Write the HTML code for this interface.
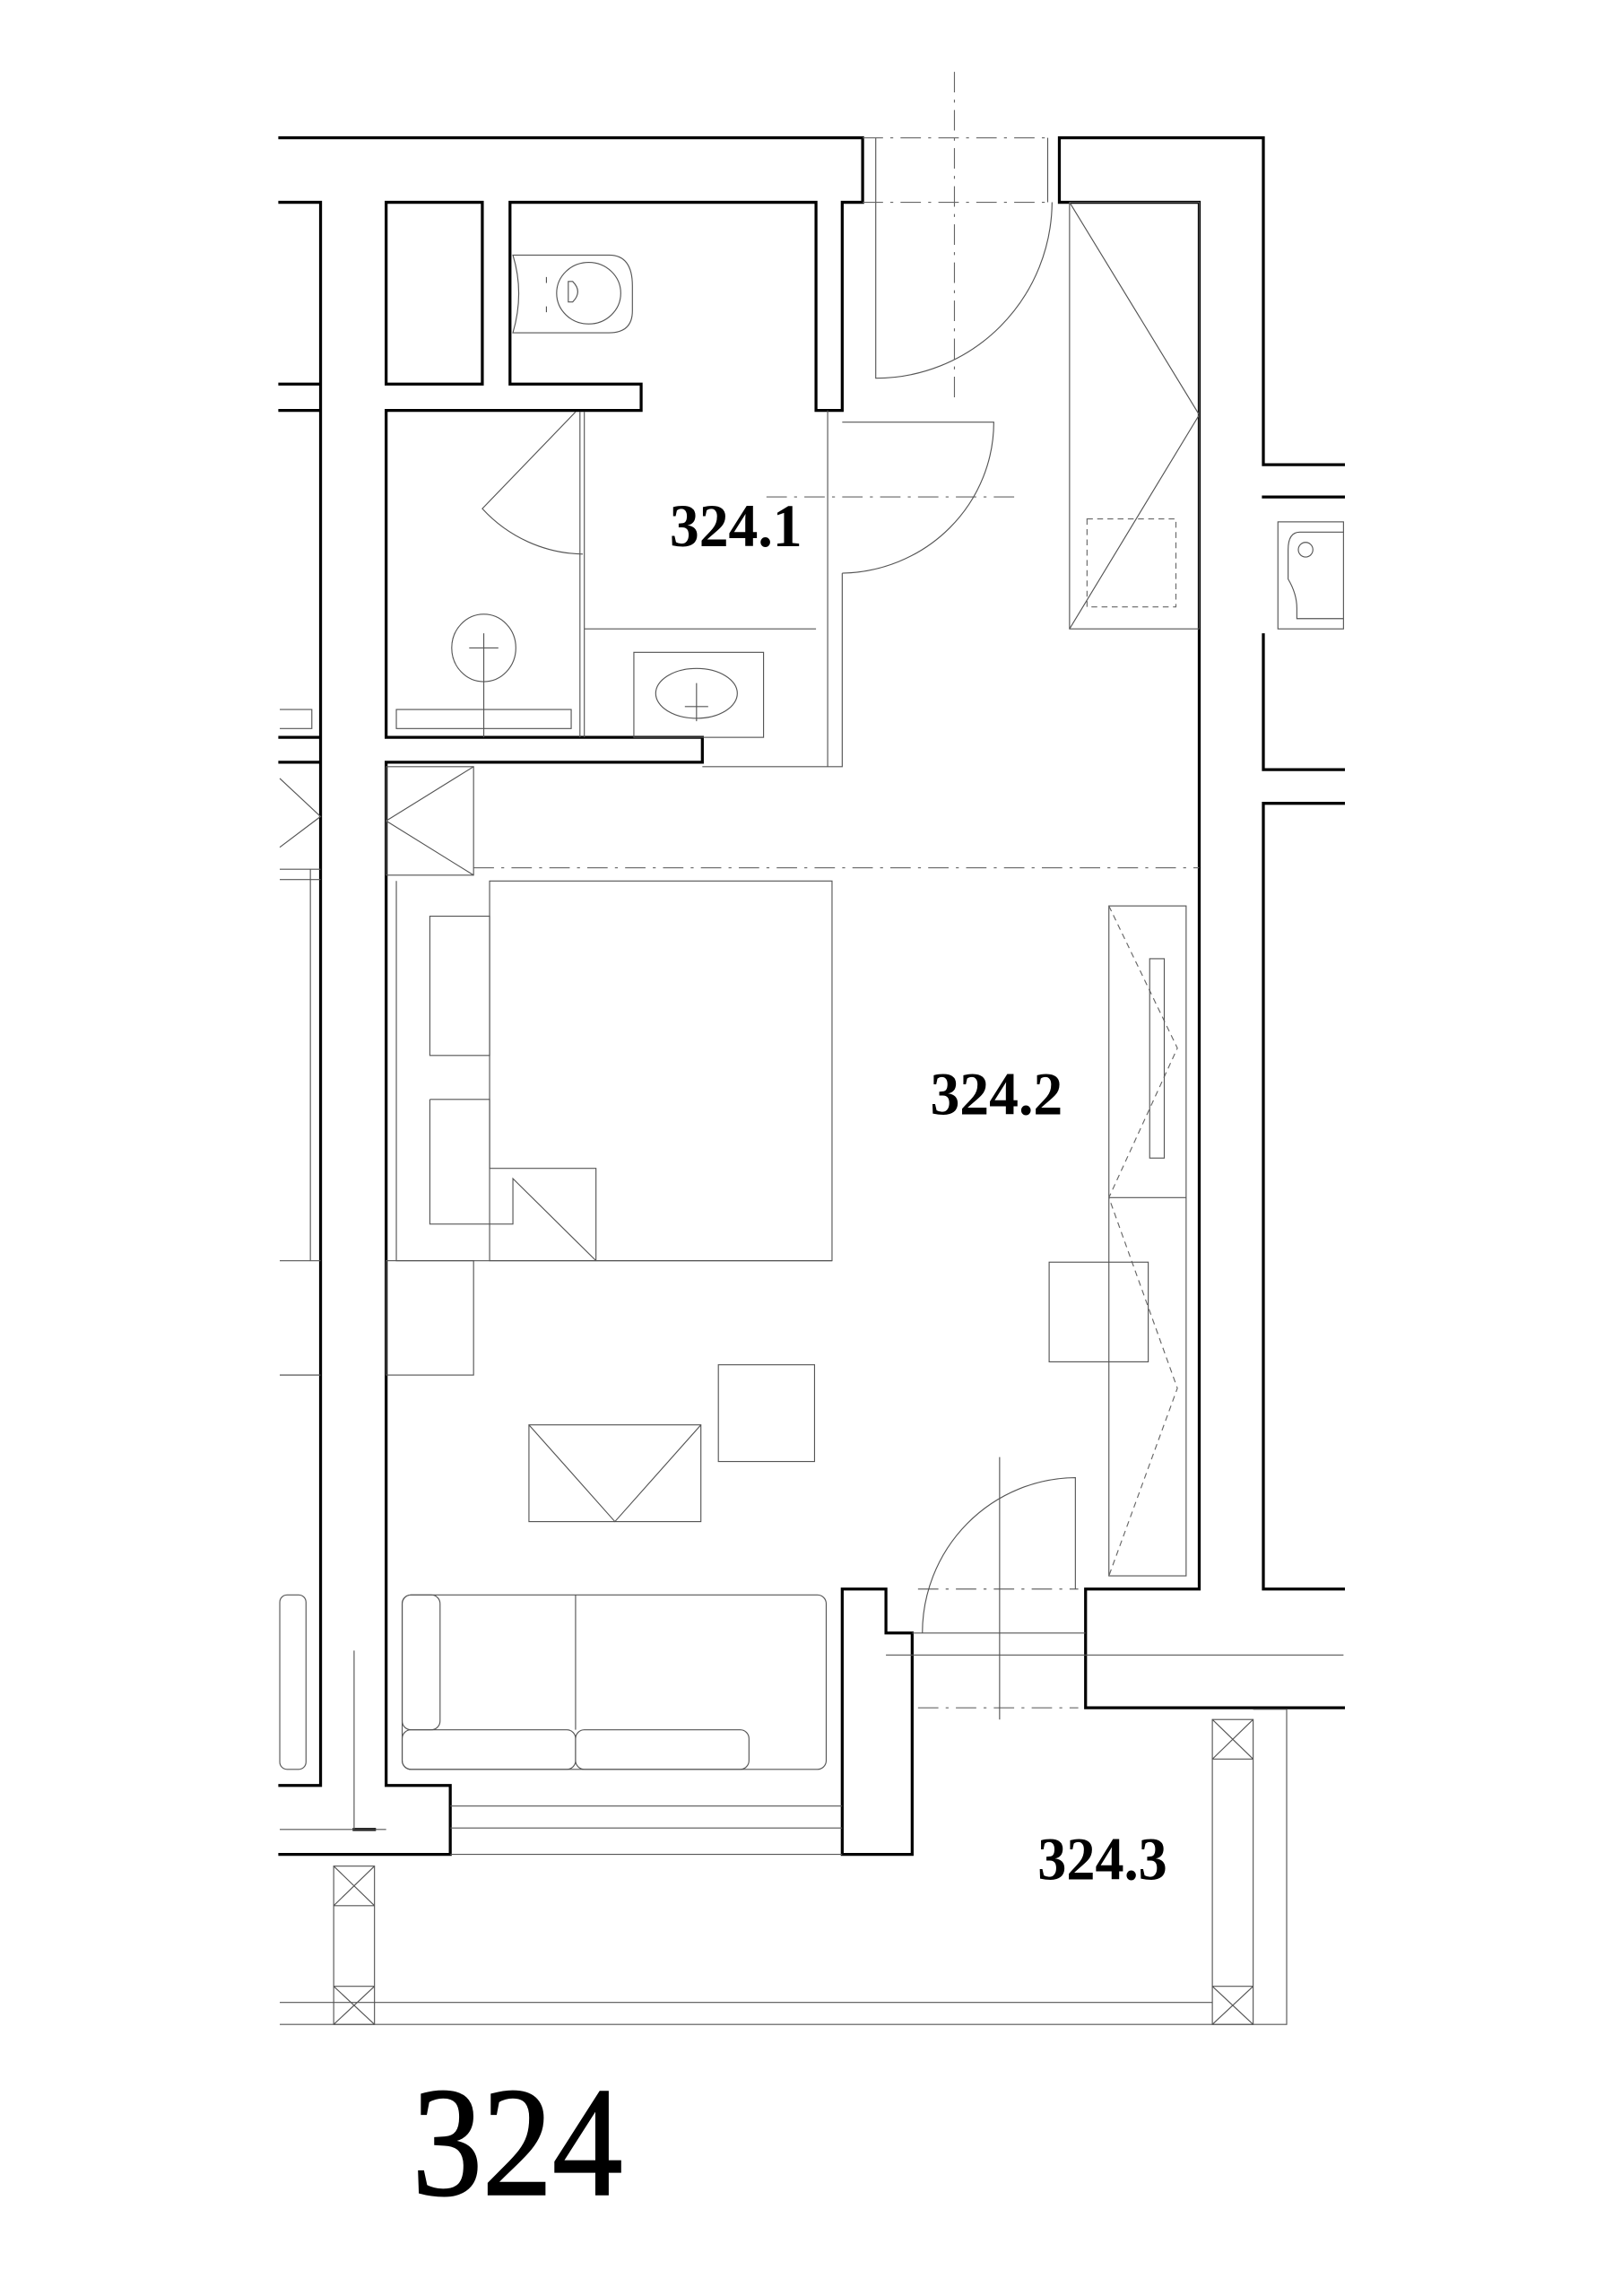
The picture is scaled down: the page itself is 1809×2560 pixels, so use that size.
<!DOCTYPE html>
<html><head><meta charset="utf-8"><style>
html,body{margin:0;padding:0;background:#fff;}
svg{display:block;}
.w{stroke:#000;stroke-width:2;fill:none;stroke-linecap:square;}
.t{stroke:#555;stroke-width:0.7;fill:none;}
.d{stroke:#666;stroke-width:0.7;fill:none;stroke-dasharray:14 5 2 5;}
.ds{stroke:#666;stroke-width:0.7;fill:none;stroke-dasharray:4 3;}
text{font-family:"Liberation Serif",serif;fill:#000;}
</style></head><body>
<svg width="1809" height="2560" viewBox="0 0 1102 1560" preserveAspectRatio="none" xmlns="http://www.w3.org/2000/svg">
<rect width="1102" height="1560" fill="#fff"/>
<g transform="scale(0.99,0.996)">
<!-- thick walls -->
<path class="w" d="M192,94 H592 V138 H578 M560,138 H350 M331,138 H265 M220,138 H192
M220,138 V1218 H192 M265,138 V262 M265,280 V503 M265,520 V1218 H309 V1265 H192
M265,138 H331 V262 H265 M350,138 V262 H440 V280 H265
M560,138 V280 H578 V138
M265,503 H482 V520 H265
M192,262 H220 M192,280 H220 M192,503 H220 M192,520 H220
M727,138 V94 H867 V317 H922 M867,339 H922 M867,433 V525 H922 M867,548 H922 M867,548 V1084 H922
M727,138 H823 V1084 H745 V1165 H922
M578,1084 H608 V1114 H626 V1265 H578 Z
M243,1248 H257"/>
<!-- thin structural -->
<path class="t" d="M608,1129 H922 M626,1114 H745 M309,1232 H578 M309,1247 H578 M309,1265 H578 M192,1248 H265 M243,1126 V1248
M568,280 V523 M578,391 V523 H482 M398,281 V503 M401,281 V503
M213,593 V860 M192,593 H220 M192,600 H220 M192,860 H220 M192,938 H220 M192,484 H214 V497 H192
M192,531 L220,557 L192,578 M601,94 V138 M719,94 V138"/>
<!-- dash-dot lines -->
<path class="d" d="M592,94 H722 M592,138 H722 M655,49 V273 M325,592 H823 M526,339 H697 M630,1084 H740 M630,1165 H740"/>
<path class="t" d="M686,994 V1173"/>
<!-- entrance door -->
<path class="t" d="M601,138 V258 A121,121 0 0 0 722,138"/>
<!-- bathroom door -->
<path class="t" d="M578,288 H682 A106,103 0 0 1 578,391"/>
<!-- shower door -->
<path class="t" d="M395,281 L331,347 A96,96 0 0 0 400,378"/>
<!-- shower drain & bench -->
<ellipse class="t" cx="332" cy="442" rx="22" ry="23"/>
<path class="t" d="M322,442 H342 M332,432 V503"/>
<rect class="t" x="272" y="484" width="120" height="13"/>
<!-- counter & basin -->
<path class="t" d="M401,429 H560"/>
<rect class="t" x="435" y="445" width="89" height="58"/>
<ellipse class="t" cx="478" cy="473" rx="28" ry="17"/>
<path class="t" d="M478,466 V492 M470,482 H486"/>
<!-- toilet -->
<path class="t" d="M352,174 H418 Q434,174 434,195 V212 Q434,227 418,227 H352 Q360,200 352,174 Z"/>
<ellipse class="t" cx="404" cy="200" rx="22" ry="21"/>
<path class="t" d="M390,192 H393 Q400,199 393,206 H390 Z M375,189 v4 M375,209 v4"/>
<!-- entry wardrobe -->
<rect class="t" x="734" y="138" width="89" height="291"/>
<path class="t" d="M734,138 L823,283 L734,429"/>
<rect class="ds" x="746" y="354" width="61" height="60"/>
<!-- bath right -->
<rect class="t" x="877" y="356" width="45" height="73"/>
<path class="t" d="M922,363 H892 Q884,363 884,375 V395 Q890,405 890,415 V422 H922"/>
<circle class="t" cx="896" cy="375" r="5"/>
<!-- small wardrobe near spine -->
<rect class="t" x="265" y="523" width="60" height="74"/>
<path class="t" d="M325,523 L265,560 L325,597"/>
<!-- bed -->
<rect class="t" x="336" y="601" width="235" height="259"/>
<path class="t" d="M272,601 V860 H571"/>
<rect class="t" x="295" y="625" width="41" height="95"/>
<path class="t" d="M295,750 H336 V797 H409 V860 M295,750 V835 H352 V804 L409,860"/>
<!-- chair -->
<rect class="t" x="265" y="860" width="60" height="78"/>
<rect class="t" x="493" y="931" width="66" height="66"/>
<rect class="t" x="363" y="972" width="118" height="66"/>
<path class="t" d="M363,972 L422,1038 L481,972"/>
<!-- sofa -->
<rect class="t" x="276" y="1088" width="291" height="119" rx="6"/>
<rect class="t" x="276" y="1088" width="26" height="92" rx="6"/>
<path class="t" d="M395,1088 V1180"/>
<rect class="t" x="276" y="1180" width="119" height="27" rx="6"/>
<rect class="t" x="395" y="1180" width="119" height="27" rx="6"/>
<rect class="t" x="192" y="1088" width="18" height="119" rx="5"/>
<!-- right wardrobe -->
<rect class="t" x="761" y="618" width="53" height="457"/>
<path class="t" d="M761,817 H814"/>
<path class="ds" d="M761,618 L808,715 L761,817 L808,947 L761,1075"/>
<rect class="t" x="789" y="654" width="10" height="136"/>
<rect class="t" x="720" y="861" width="68" height="68"/>
<!-- balcony door -->
<path class="t" d="M738,1084 V1008 A106,106 0 0 0 633,1114"/>
<!-- balcony -->
<rect class="t" x="229" y="1273" width="28" height="108"/>
<path class="t" d="M229,1300 H257 M229,1355 H257 M229,1273 L257,1300 M257,1273 L229,1300 M229,1355 L257,1381 M257,1355 L229,1381"/>
<rect class="t" x="832" y="1173" width="28" height="208"/>
<path class="t" d="M832,1200 H860 M832,1355 H860 M832,1173 L860,1200 M860,1173 L832,1200 M832,1355 L860,1381 M860,1355 L832,1381"/>
<path class="t" d="M192,1366 H832 M192,1381 H883 V1166 H860"/>
</g>
<!-- labels -->
<text x="455" y="371" font-size="41" font-weight="bold" textLength="90" lengthAdjust="spacingAndGlyphs">324.1</text>
<text x="632" y="757" font-size="41" font-weight="bold" textLength="90" lengthAdjust="spacingAndGlyphs">324.2</text>
<text x="705" y="1277" font-size="41" font-weight="bold" textLength="88" lengthAdjust="spacingAndGlyphs">324.3</text>
<text x="280" y="1491" font-size="106" stroke="#000" stroke-width="1.2" textLength="143" lengthAdjust="spacingAndGlyphs">324</text>
</svg>
</body></html>
